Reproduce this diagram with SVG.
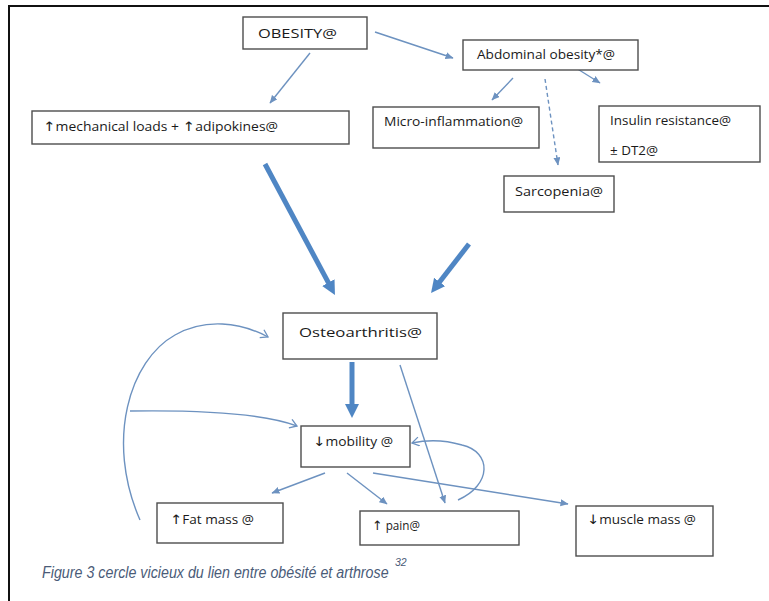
<svg xmlns="http://www.w3.org/2000/svg" width="769" height="601" viewBox="0 0 769 601">
<style>
.box{fill:#fff;stroke:#4d4d4d;stroke-width:1.4}
.t{font-family:"Open Sans","DejaVu Sans",sans-serif;font-size:12px;fill:#1a1a1a}
.ar{font-family:"DejaVu Sans",sans-serif;font-size:13px}
.thin{fill:none;stroke:#6d92c0;stroke-width:1.4}
.thick{fill:none;stroke:#4f86c4;stroke-width:5}
.cap{font-family:"Liberation Sans",Arial,sans-serif;font-style:italic;fill:#4a5b78}
</style>
<defs>
<marker id="ah" markerUnits="userSpaceOnUse" markerWidth="9" markerHeight="8" refX="7.5" refY="3.5" orient="auto">
<path d="M0,0 L8,3.5 L0,7 z" fill="#6d92c0"/>
</marker>
<marker id="ahT" markerUnits="userSpaceOnUse" markerWidth="16" markerHeight="16" refX="2" refY="7" orient="auto">
<path d="M0,0 L14,7 L0,14 z" fill="#4f86c4"/>
</marker>
<marker id="ahO" markerUnits="userSpaceOnUse" markerWidth="10" markerHeight="12" refX="8" refY="5" orient="auto">
<path d="M1,0.5 L8,5 L1,9.5" fill="none" stroke="#6d92c0" stroke-width="1.3"/>
</marker>
</defs>
<rect width="769" height="601" fill="#fff"/>
<path d="M9,610 V6 H780" fill="none" stroke="#111" stroke-width="2"/>

<g id="connectors">
<line class="thin" x1="310" y1="53" x2="270" y2="103" marker-end="url(#ah)"/>
<line class="thin" x1="375" y1="32" x2="453" y2="58" marker-end="url(#ah)"/>
<line class="thin" x1="513" y1="78" x2="492" y2="100" marker-end="url(#ah)"/>
<line class="thin" x1="545" y1="79" x2="558" y2="165" stroke-dasharray="4,3" marker-end="url(#ah)"/>
<line class="thin" x1="560" y1="58" x2="600" y2="83" marker-end="url(#ah)"/>
<line class="thick" x1="265" y1="164" x2="329.3" y2="284.4" marker-end="url(#ahT)"/>
<line class="thick" x1="469" y1="244" x2="438.4" y2="283.5" marker-end="url(#ahT)"/>
<line class="thick" x1="352" y1="362" x2="352" y2="406" marker-end="url(#ahT)"/>
<line class="thin" x1="400" y1="365" x2="445" y2="503" marker-end="url(#ah)"/>
<line class="thin" x1="325" y1="473" x2="272" y2="493" marker-end="url(#ah)"/>
<line class="thin" x1="347" y1="473" x2="387" y2="504" marker-end="url(#ah)"/>
<line class="thin" x1="373" y1="473" x2="568" y2="504" marker-end="url(#ah)"/>
<path class="thin" d="M140,520 C105,440 130,360 175,335 C205,318 240,322 268,337" marker-end="url(#ahO)"/>
<path class="thin" d="M130,411 C200,410 262,413 297,426" marker-end="url(#ahO)"/>
<path class="thin" d="M458,500 C492,485 492,452 462,445 C445,440 426,440 412,443" marker-end="url(#ahO)"/>
</g>

<g id="obesity"><rect class="box" x="243" y="17" width="124" height="32"/><text class="t" x="258" y="38" font-size="14" textLength="79" lengthAdjust="spacingAndGlyphs">OBESITY@</text></g>
<g id="mechanical"><rect class="box" x="32" y="111" width="317" height="33"/><text class="t" x="43" y="131" textLength="235" lengthAdjust="spacingAndGlyphs"><tspan class="ar">↑</tspan>mechanical loads + <tspan class="ar">↑</tspan>adipokines@</text></g>
<g id="abdominal"><rect class="box" x="463" y="40" width="175" height="30"/><text class="t" x="477" y="59" textLength="138" lengthAdjust="spacingAndGlyphs">Abdominal obesity*@</text></g>
<g id="micro"><rect class="box" x="373" y="107" width="166" height="41"/><text class="t" x="384" y="126" textLength="139" lengthAdjust="spacingAndGlyphs">Micro-inflammation@</text></g>
<g id="insulin"><rect class="box" x="599" y="106" width="161" height="56"/><text class="t" x="610" y="125" textLength="121" lengthAdjust="spacingAndGlyphs">Insulin resistance@</text><text class="t" x="610" y="155" textLength="48" lengthAdjust="spacingAndGlyphs">± DT2@</text></g>
<g id="sarcopenia"><rect class="box" x="504" y="176" width="110" height="36"/><text class="t" x="515" y="196" textLength="88" lengthAdjust="spacingAndGlyphs">Sarcopenia@</text></g>
<g id="osteoarthritis"><rect class="box" x="283" y="313" width="154" height="46"/><text class="t" x="299" y="337" font-size="14.5" textLength="123" lengthAdjust="spacingAndGlyphs">Osteoarthritis@</text></g>
<g id="mobility"><rect class="box" x="301" y="426" width="109" height="41"/><text class="t" x="313" y="446" textLength="80" lengthAdjust="spacingAndGlyphs"><tspan class="ar">↓</tspan>mobility @</text></g>
<g id="fatmass"><rect class="box" x="157" y="503" width="126" height="40"/><text class="t" x="170" y="524" textLength="84" lengthAdjust="spacingAndGlyphs"><tspan class="ar">↑</tspan>Fat mass @</text></g>
<g id="pain"><rect class="box" x="360" y="511" width="159" height="34"/><text class="t" x="372" y="530" textLength="48" lengthAdjust="spacingAndGlyphs"><tspan class="ar">↑</tspan> pain@</text></g>
<g id="musclemass"><rect class="box" x="576" y="506" width="137" height="50"/><text class="t" x="587" y="524" textLength="109" lengthAdjust="spacingAndGlyphs"><tspan class="ar">↓</tspan>muscle mass @</text></g>

<g id="caption"><text class="cap" transform="translate(42,578) scale(0.84,1)" x="0" y="0" font-size="17">Figure 3 cercle vicieux du lien entre obésité et arthrose</text><text class="cap" x="395" y="566" font-size="10.5">32</text></g>
</svg>
